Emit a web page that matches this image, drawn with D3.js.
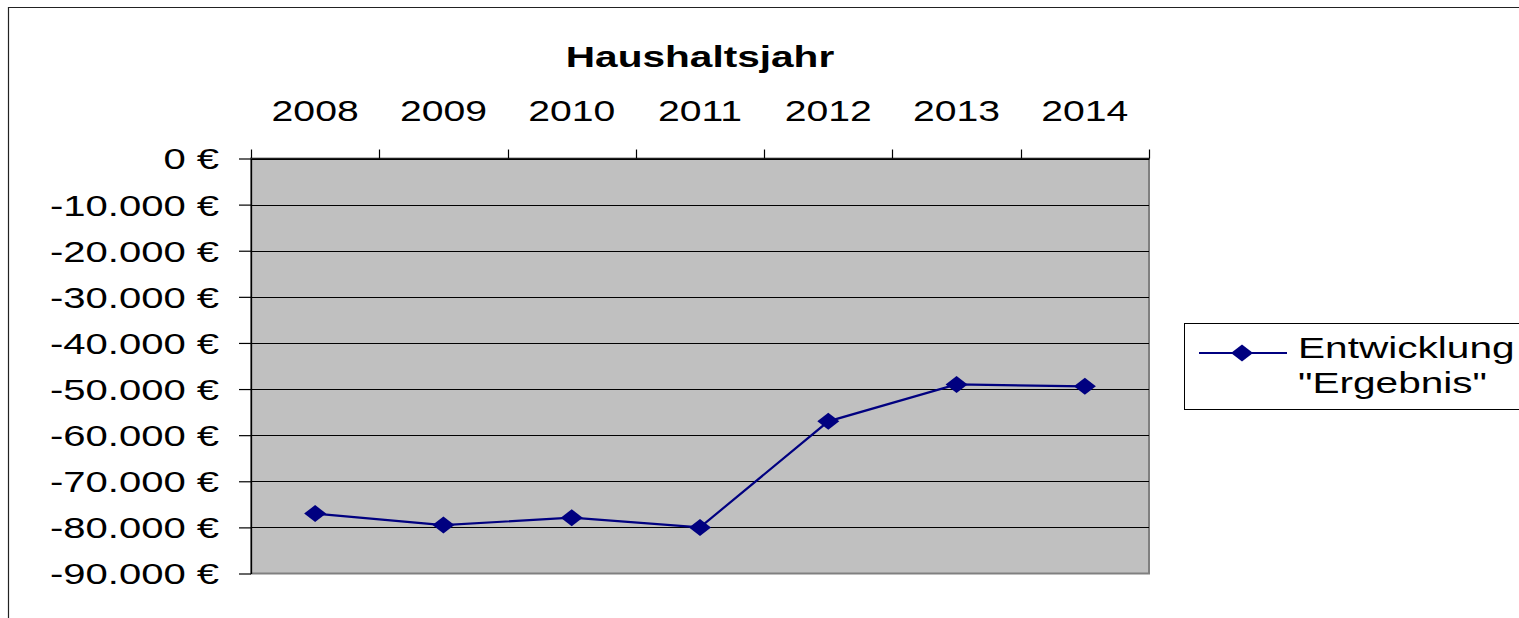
<!DOCTYPE html>
<html>
<head>
<meta charset="utf-8">
<script src="https://cdn.jsdelivr.net/npm/d3@7"></script>
<style>
  html, body { margin: 0; padding: 0; background: #fff; overflow: hidden; }
  svg { display: block; font-family: "Liberation Sans", Arial, sans-serif; }
</style>
</head>
<body>
<svg id="chart" width="1519" height="618"></svg>
<script>
const categories = ["2008", "2009", "2010", "2011", "2012", "2013", "2014"];
const values = [-77000, -79500, -77900, -80000, -57000, -49000, -49400];
const yTicks = [0, -10000, -20000, -30000, -40000, -50000, -60000, -70000, -80000, -90000];
const seriesNameLines = ["Entwicklung", "\"Ergebnis\""];
const chartTitle = "Haushaltsjahr";

const svg = d3.select("#chart");
const plot = { left: 251, right: 1149, top: 158.5, bottom: 573.5 };

const deLocale = d3.formatLocale({ decimal: ",", thousands: ".", grouping: [3], currency: ["", " €"] });
const fmt = v => deLocale.format("$,.0f")(v).replace("−", "-");

const x = d3.scaleBand().domain(categories).range([plot.left, plot.right]).padding(0);
const y = d3.scaleLinear().domain([-90000, 0]).range([plot.bottom, plot.top]);

// outer frame
svg.append("path")
  .attr("d", `M8.5,640 V7.5 H1540`)
  .attr("fill", "none").attr("stroke", "#222").attr("stroke-width", 1.2);

// plot area background
svg.append("rect")
  .attr("x", plot.left).attr("y", plot.top)
  .attr("width", plot.right - plot.left).attr("height", plot.bottom - plot.top)
  .attr("fill", "#c0c0c0").attr("stroke", "#808080").attr("stroke-width", 2);

// gridlines
svg.append("g").selectAll("line").data(yTicks.filter(d => d !== -90000)).join("line")
  .attr("x1", plot.left).attr("x2", plot.right)
  .attr("y1", d => Math.round(y(d)) + 0.5).attr("y2", d => Math.round(y(d)) + 0.5)
  .attr("stroke", "#000").attr("stroke-width", 1);

// y axis
const sxY = 1.38;
const yAxis = svg.append("g").attr("transform", `translate(${plot.left},0)`)
  .call(d3.axisLeft(y).tickValues(yTicks).tickSizeInner(12).tickSizeOuter(0).tickFormat(fmt));
yAxis.select(".domain").attr("stroke", "#000").attr("stroke-width", 1.3);
yAxis.selectAll(".tick line").attr("stroke", "#000").attr("stroke-width", 1.2);
yAxis.selectAll(".tick text")
  .attr("font-size", 29).attr("fill", "#000")
  .attr("font-family", "'Liberation Sans', Arial, sans-serif")
  .attr("x", -32 / sxY).attr("dy", "0.36em")
  .attr("transform", `scale(${sxY},1)`);

// x axis on top: labels
const sxX = 1.35;
const xAxis = svg.append("g").attr("transform", `translate(0,${plot.top})`)
  .call(d3.axisTop(x).tickSize(0).tickPadding(38));
xAxis.select(".domain").attr("stroke", "#000").attr("stroke-width", 1.3);
xAxis.selectAll(".tick text")
  .attr("font-size", 29).attr("fill", "#000")
  .attr("font-family", "'Liberation Sans', Arial, sans-serif")
  .attr("transform", `scale(${sxX},1)`);
// boundary ticks
const bounds = categories.map(c => x(c)).concat([x.range()[1]]);
svg.append("g").selectAll("line").data(bounds).join("line")
  .attr("x1", d => Math.round(d) + 0.5).attr("x2", d => Math.round(d) + 0.5)
  .attr("y1", plot.top - 9).attr("y2", plot.top)
  .attr("stroke", "#000").attr("stroke-width", 1.2);

// title
svg.append("text")
  .attr("transform", `translate(${(plot.left + plot.right) / 2},67) scale(1.4,1)`)
  .attr("text-anchor", "middle")
  .attr("font-size", 29).attr("font-weight", "bold").attr("fill", "#000")
  .text(chartTitle);

// line
const data = categories.map((c, i) => ({ c, v: values[i] }));
const cx = d => x(d.c) + x.bandwidth() / 2;
svg.append("path").datum(data)
  .attr("d", d3.line().x(cx).y(d => y(d.v)))
  .attr("fill", "none").attr("stroke", "#000080").attr("stroke-width", 2.2);

const diamond = (w, h) => `M0,${-h / 2} L${w / 2},0 L0,${h / 2} L${-w / 2},0 Z`;
svg.append("g").selectAll("path").data(data).join("path")
  .attr("transform", d => `translate(${cx(d)},${y(d.v)})`)
  .attr("d", diamond(22, 17))
  .attr("fill", "#000080");

// legend
const lg = svg.append("g");
lg.append("rect").attr("x", 1184.5).attr("y", 323.5).attr("width", 360).attr("height", 86)
  .attr("fill", "#fff").attr("stroke", "#000").attr("stroke-width", 1);
lg.append("line").attr("x1", 1199).attr("x2", 1287).attr("y1", 353).attr("y2", 353)
  .attr("stroke", "#000080").attr("stroke-width", 2.2);
lg.append("path").attr("transform", "translate(1242,353)").attr("d", diamond(22, 17)).attr("fill", "#000080");
seriesNameLines.forEach((t, i) => {
  lg.append("text")
    .attr("transform", `translate(1298,${358 + i * 35}) scale(1.4,1)`)
    .attr("font-size", 29).attr("fill", "#000")
    .text(t);
});
</script>
</body>
</html>
